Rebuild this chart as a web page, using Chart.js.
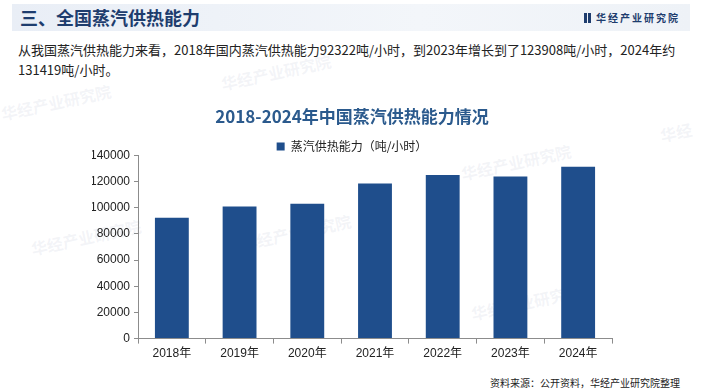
<!DOCTYPE html>
<html>
<head>
<meta charset="utf-8">
<script src="https://cdn.jsdelivr.net/npm/chart.js@4"></script>
<style>
  body { margin: 0; width: 704px; height: 390px; background: #fff; overflow: hidden; position: relative;
         font-family: "Noto Sans CJK SC", "Liberation Sans", sans-serif; }
  .head { position: absolute; left: 12px; top: 4px; width: 678px; height: 27px;
          background: linear-gradient(90deg, #e9eef6, #f3f6fa 60%, #eef2f7); }
  .head h1 { position: absolute; left: 8px; top: 0; margin: 0; font-size: 18px; line-height: 27px;
             font-weight: bold; color: #1e3d6e; }
  .logo { position: absolute; right: 10px; top: 0; line-height: 27px; font-size: 10px; font-weight: bold;
          color: #1e3d6e; letter-spacing: 2px; }
  .logo i { display: inline-block; width: 3px; height: 10px; background: #1e3d6e; margin-right: 1px; vertical-align: -1px; }
  .txt { position: absolute; left: 18px; top: 40px; width: 670px; font-size: 13px; line-height: 20px; color: #222; }
  .src { position: absolute; right: 24px; top: 375px; font-size: 10px; color: #222; }
  .wm { position: absolute; font-size: 16px; font-weight: bold; color: rgba(180,190,210,0.16); transform: rotate(-12deg); }
  #box { position: absolute; left: 0; top: 100px; width: 704px; height: 264px; }
</style>
</head>
<body>
<div class="head"><h1>三、全国蒸汽供热能力</h1><div class="logo"><i></i><i></i> 华经产业研究院</div></div>
<div class="txt">从我国蒸汽供热能力来看，2018年国内蒸汽供热能力92322吨/小时，到2023年增长到了123908吨/小时，2024年约131419吨/小时。</div>
<div class="wm" style="left:0px;top:90px;">华经产业研究院</div>
<div class="wm" style="left:220px;top:60px;">华经产业研究院</div>
<div class="wm" style="left:240px;top:220px;">华经产业研究院</div>
<div class="wm" style="left:460px;top:150px;">华经产业研究院</div>
<div class="wm" style="left:30px;top:225px;">华经产业研究院</div>
<div class="wm" style="left:470px;top:290px;">华经产业研究院</div>
<div class="wm" style="left:660px;top:120px;">华经</div>
<div id="box"><canvas id="myChart"></canvas></div>
<div class="src">资料来源：公开资料，华经产业研究院整理</div>
<script>
// data
const years = ['2018年', '2019年', '2020年', '2021年', '2022年', '2023年', '2024年'];
const capacity = [92322, 101000, 103000, 118500, 125000, 123908, 131419];
const seriesName = '蒸汽供热能力（吨/小时）';
const chartTitle = '2018-2024年中国蒸汽供热能力情况';

const barColor = '#1f4e8c';
const axisColor = '#8c8c8c';
const fontFam = '"Liberation Sans", "Noto Sans CJK SC", sans-serif';

// pull the plot area up closer to the legend
const legendShrink = {
  id: 'legendShrink',
  beforeInit(chart) {
    const lg = chart.legend;
    if (!lg) return;
    const fit = lg.fit;
    lg.fit = function () { fit.call(this); this.height -= 7; };
  }
};

const config = {
  type: 'bar',
  data: {
    labels: years,
    datasets: [{
      label: seriesName,
      data: capacity,
      backgroundColor: barColor,
      categoryPercentage: 0.5,
      barPercentage: 1
    }]
  },
  options: {
    responsive: true,
    maintainAspectRatio: false,
    animation: false,
    layout: { padding: { left: 92, right: 92, top: 4, bottom: 0 } },
    plugins: {
      title: {
        display: true,
        text: chartTitle,
        color: '#2b5a8d',
        font: { family: '"Noto Sans CJK SC", sans-serif', size: 17, weight: 'bold' },
        padding: { top: 2, bottom: 13 }
      },
      legend: {
        labels: {
          boxWidth: 8, boxHeight: 8, color: '#222',
          font: { family: '"Noto Sans CJK SC", sans-serif', size: 12 },
          padding: 1
        }
      },
      tooltip: { enabled: false }
    },
    scales: {
      x: {
        grid: { drawOnChartArea: false, color: axisColor, tickLength: 5 },
        border: { color: axisColor },
        ticks: { color: '#222', font: { family: fontFam, size: 12 }, padding: 3 }
      },
      y: {
        min: 0, max: 140000,
        afterFit: s => { s.width = 46; },
        grid: { drawOnChartArea: false, color: axisColor, tickLength: 4 },
        border: { color: axisColor },
        ticks: {
          stepSize: 20000, color: '#222', font: { family: fontFam, size: 12 }, padding: 4,
          callback: v => String(v)
        }
      }
    }
  },
  plugins: [legendShrink]
};

const myChart = new Chart(document.getElementById('myChart'), config);
</script>
</body>
</html>
